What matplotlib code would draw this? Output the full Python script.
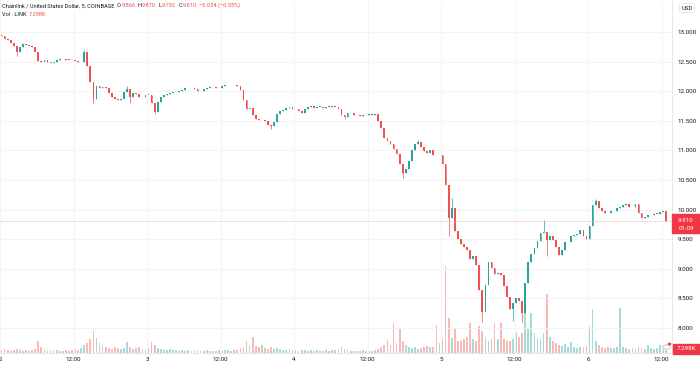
import numpy as np
import matplotlib
matplotlib.use("Agg")
import matplotlib.pyplot as plt

# LINK/USD, shown here as 30-minute candles (day 2 00:00 -> day 6 ~13:00)
closes = [
    12.93, 12.88, 12.86, 12.82, 12.77, 12.66, 12.75, 12.80, 12.78, 12.76,
    12.74, 12.66, 12.51, 12.49, 12.53, 12.49, 12.48, 12.50, 12.53, 12.54,
    12.54, 12.53, 12.53, 12.52, 12.51, 12.49, 12.49, 12.66, 12.43, 12.16,
    11.87, 12.09, 12.05, 12.07, 12.05, 11.97, 11.90, 11.87, 11.85, 11.87,
    11.99, 12.04, 11.90, 11.97, 11.95, 11.90, 11.90, 11.94, 11.94, 11.80,
    11.65, 11.82, 11.90, 11.94, 11.96, 11.97, 11.99, 11.98, 12.00, 12.02,
    12.05, 12.05, 12.05, 12.03, 12.01, 12.00, 12.04, 12.05, 12.07, 12.07,
    12.05, 12.05, 12.09, 12.10, 12.10, 12.10, 12.10, 12.09, 12.02, 11.85,
    11.70, 11.72, 11.60, 11.53, 11.51, 11.52, 11.50, 11.43, 11.41, 11.48,
    11.61, 11.66, 11.68, 11.71, 11.73, 11.70, 11.70, 11.67, 11.64, 11.70,
    11.74, 11.75, 11.72, 11.74, 11.74, 11.72, 11.73, 11.75, 11.74, 11.74,
    11.70, 11.60, 11.56, 11.63, 11.63, 11.60, 11.60, 11.58, 11.60, 11.60,
    11.61, 11.60, 11.61, 11.50, 11.38, 11.21, 11.16, 11.11, 11.03, 10.94,
    10.77, 10.62, 10.68, 10.82, 11.01, 11.11, 11.14, 11.06, 10.99, 10.96,
    11.01, 10.93, 10.92, 10.92, 10.77, 10.42, 9.86, 10.03, 9.64, 9.50,
    9.42, 9.37, 9.31, 9.16, 9.22, 9.06, 8.64, 8.27, 8.73, 9.11,
    9.02, 8.92, 8.93, 8.90, 8.71, 8.53, 8.32, 8.42, 8.51, 8.46,
    8.25, 8.76, 9.11, 9.25, 9.35, 9.47, 9.60, 9.62, 9.49, 9.55,
    9.49, 9.36, 9.23, 9.32, 9.45, 9.45, 9.55, 9.57, 9.59, 9.65,
    9.55, 9.50, 9.72, 10.08, 10.15, 10.03, 9.98, 9.95, 9.94, 9.97,
    9.97, 10.02, 10.04, 10.08, 10.09, 10.04, 10.05, 10.10, 9.94, 9.86,
    9.88, 9.91, 9.91, 9.93, 9.93, 9.96, 9.98, 9.81,
]
first_open = 12.95

# wick extremes that stick out of the bodies
spike_high = {27: 12.69, 41: 12.08, 136: 11.18, 147: 10.20, 177: 9.82, 194: 10.18}
spike_low = {5: 12.60, 30: 11.80, 42: 11.80, 50: 11.62, 88: 11.36, 112: 11.53,
             131: 10.53, 146: 9.55, 157: 8.10, 167: 8.12, 170: 8.10, 178: 9.22}

# volume in thousands of LINK
volumes = [
    7, 10, 7, 5, 7, 10, 7, 5, 7, 5,
    7, 10, 29, 15, 7, 5, 7, 5, 7, 5,
    5, 7, 5, 7, 10, 7, 12, 19, 24, 34,
    53, 36, 24, 19, 15, 12, 10, 15, 12, 10,
    12, 27, 15, 10, 12, 15, 10, 7, 12, 27,
    19, 12, 10, 7, 7, 10, 7, 7, 5, 7,
    5, 7, 5, 5, 7, 5, 5, 7, 5, 5,
    5, 7, 5, 7, 7, 5, 7, 7, 12, 15,
    29, 19, 39, 17, 15, 19, 12, 10, 15, 10,
    12, 10, 7, 7, 10, 7, 7, 5, 7, 7,
    5, 7, 5, 7, 5, 5, 7, 5, 7, 7,
    7, 15, 10, 7, 5, 5, 5, 5, 7, 5,
    5, 5, 7, 10, 15, 19, 32, 19, 73, 24,
    58, 29, 19, 15, 12, 15, 10, 12, 15, 17,
    15, 15, 68, 24, 34, 212, 85, 36, 61, 29,
    29, 34, 39, 73, 34, 29, 66, 54, 39, 29,
    34, 73, 34, 73, 34, 29, 29, 34, 51, 39,
    49, 134, 61, 97, 49, 36, 34, 49, 144, 39,
    29, 24, 19, 17, 22, 15, 27, 15, 12, 15,
    15, 17, 63, 107, 29, 19, 15, 12, 15, 12,
    12, 15, 110, 15, 12, 10, 12, 10, 15, 12,
    10, 19, 12, 10, 12, 19, 10, 7.298,
]

price_ticks = [8.0, 8.5, 9.0, 9.5, 10.0, 10.5, 11.0, 11.5, 12.0, 12.5, 13.0]
time_ticks = [0, 12, 24, 36, 48, 60, 72, 84, 96, 108]
time_labels = ["2", "12:00", "3", "12:00", "4", "12:00", "5", "12:00", "6", "12:00"]

last_price = 9.810
header = "Chainlink / United States Dollar, 5, COINBASE"
ohlc_labels = ["O", "H", "L", "C"]
ohlc_values = ["9.866", "9.870", "9.792", "9.810"]
change_text = "\u22120.054 (\u22120.55%)"

UP = "#26a69a"
DOWN = "#ef5350"
TEXT = "#131722"
GRID = "#f0f3fa"

plt.rcParams["font.family"] = ["Roboto", "DejaVu Sans"]

W, H = 700, 367
fig = plt.figure(figsize=(W / 100, H / 100), dpi=100)
fig.patch.set_facecolor("white")

plot_w, plot_h = 672, 353
ax = fig.add_axes([0, (H - plot_h) / H, plot_w / W, plot_h / H])
axv = ax.twinx()

n = len(closes)
x = np.arange(n) * 0.5 + 0.25
opens = np.array([first_open] + closes[:-1])
closes_a = np.array(closes)
up = closes_a >= opens
colors = np.where(up, UP, DOWN)
highs = np.maximum(opens, closes_a)
lows = np.minimum(opens, closes_a)
for i, v in spike_high.items():
    highs[i] = v
for i, v in spike_low.items():
    lows[i] = v

# volume first, underneath
axv.bar(x, volumes, width=0.28, color=colors, alpha=0.4, linewidth=0)
axv.set_ylim(0, 860)
axv.axis("off")

ax.set_zorder(axv.get_zorder() + 1)
ax.patch.set_visible(False)

ax.vlines(x, lows, highs, colors=colors, linewidth=0.5)
body_h = np.maximum(np.abs(closes_a - opens), 0.006)
ax.bar(x, body_h, bottom=np.minimum(opens, closes_a), width=0.28, color=colors, linewidth=0)

ax.axhline(last_price, color="#f3a7a6", linewidth=0.6, linestyle=(0, (1, 1)))

ax.set_xlim(0, plot_w / 6.125)
ax.set_ylim(13 - (plot_h - 32) / 59.2, 13 + 32 / 59.2)

ax.set_yticks(price_ticks)
ax.set_yticklabels([f"{p:.3f}" for p in price_ticks])
ax.yaxis.tick_right()
ax.set_xticks(time_ticks)
ax.set_xticklabels(time_labels)
ax.tick_params(axis="both", length=0, labelsize=4.5, colors=TEXT)
ax.tick_params(axis="y", pad=4)
ax.tick_params(axis="x", pad=3)
ax.grid(True, color=GRID, linewidth=0.6)
ax.set_axisbelow(True)
for side in ["top", "left"]:
    ax.spines[side].set_visible(False)
for side in ["right", "bottom"]:
    ax.spines[side].set_color("#e0e3eb")
    ax.spines[side].set_linewidth(0.6)


def px(xp, yp):
    return xp / W, 1 - yp / H


renderer = fig.canvas.get_renderer()


def chain(items, xp, yp, fs, gap=0.0):
    # lay texts one after another, measured so they never overlap
    for txt, col, extra in items:
        xp += extra
        t = fig.text(*px(xp, yp), txt, fontsize=fs, color=col, va="center")
        xp = t.get_window_extent(renderer).x1 + gap
    return xp


# header legend
fs = 4.1
items = [(header, TEXT, 0)]
for lab, val in zip(ohlc_labels, ohlc_values):
    items.append((lab, TEXT, 2.5))
    items.append((val, DOWN, 0.3))
items.append((change_text, DOWN, 2.5))
chain(items, 2, 5.5, fs)
chain([("Vol \u00b7 LINK", TEXT, 0), ("7.298K", DOWN, 2.5)], 2, 14.5, fs)

# USD box on the price scale
fig.text(*px(687, 8), "USD", fontsize=4.3, color=TEXT, ha="center", va="center",
         bbox=dict(boxstyle="round,pad=0.35,rounding_size=0.3", fc="white", ec="#e0e3eb", lw=0.5))

# last price tag
fig.patches.append(plt.Rectangle(px(672, 233), 28 / W, 19 / H, transform=fig.transFigure,
                                 color="#f23645", zorder=5))
fig.text(*px(686, 220.5), "9.810", fontsize=4.5, color="white", ha="center", va="center", zorder=6)
fig.text(*px(686, 228.5), "01:09", fontsize=4.5, color="white", ha="center", va="center", zorder=6)

# last volume tag
fig.patches.append(plt.Rectangle(px(673, 354), 27 / W, 10 / H, transform=fig.transFigure,
                                 color="#f23645", zorder=5))
fig.text(*px(686.5, 349), "7.298K", fontsize=4.5, color="white", ha="center", va="center", zorder=6)

# small round badge at the bottom right of the pane
fig.patches.append(plt.Circle(px(667, 347), 4 / W, transform=fig.transFigure,
                              fc="white", ec="#b2b5be", lw=0.5, zorder=5))
fig.patches.append(plt.Circle(px(669.5, 344), 1.2 / W, transform=fig.transFigure,
                              color="#f23645", zorder=6))

fig.savefig("out.png", dpi=100)
